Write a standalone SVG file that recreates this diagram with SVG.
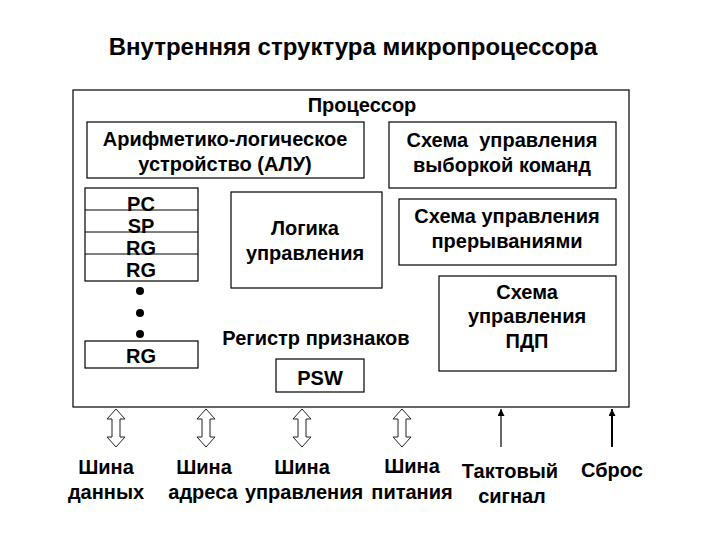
<svg xmlns="http://www.w3.org/2000/svg" width="720" height="540" viewBox="0 0 720 540">
<style>
  .box { fill: #fff; stroke: #000; stroke-width: 1.2; }
  .t { font-family: "Liberation Sans", Arial, sans-serif; font-weight: bold; font-size: 20px; fill: #000; text-anchor: middle; }
  .title { font-size: 24px; }
  .lbl { font-size: 20px; }
  .dbl { fill: #fff; stroke: #222; stroke-width: 1; }
  .sig { stroke: #000; fill: none; }
</style>
<defs>
  <marker id="ah" viewBox="0 0 10 10" refX="10" refY="5" markerWidth="8" markerHeight="7" markerUnits="userSpaceOnUse" orient="auto">
    <path d="M0,0 L10,5 L0,10 Z" fill="#000"/>
  </marker>
  <path id="dblarrow" class="dbl" d="M0,0 L9,10 L4,10 L4,28 L9,28 L0,38 L-9,28 L-4,28 L-4,10 L-9,10 Z"/>
</defs>
<rect width="720" height="540" fill="#fff"/>
<text id="title" class="t title" x="353" y="55">Внутренняя структура микропроцессора</text>

<g id="processor">
  <rect class="box" x="73" y="90" width="556" height="317"/>
  <text class="t" x="362" y="112">Процессор</text>
</g>
<g id="alu">
  <rect class="box" x="87" y="122" width="277" height="56"/>
  <text class="t" x="225" y="146">Арифметико-логическое</text>
  <text class="t" x="225" y="171">устройство (АЛУ)</text>
</g>
<g id="fetch">
  <rect class="box" x="389" y="122" width="227" height="66"/>
  <text class="t" x="502" y="147" xml:space="preserve">Схема  управления</text>
  <text class="t" x="502" y="172">выборкой команд</text>
</g>
<g id="registers">
  <rect class="box" x="85" y="188" width="113" height="93"/>
  <line class="sig" x1="85" y1="210" x2="198" y2="210"/>
  <line class="sig" x1="85" y1="232" x2="198" y2="232"/>
  <line class="sig" x1="85" y1="254" x2="198" y2="254"/>
  <text class="t" x="141" y="211">PC</text>
  <text class="t" x="141" y="233">SP</text>
  <text class="t" x="141" y="255">RG</text>
  <text class="t" x="141" y="277">RG</text>
  <circle cx="140" cy="291" r="4" fill="#000"/>
  <circle cx="140" cy="313" r="4" fill="#000"/>
  <circle cx="140" cy="334" r="4" fill="#000"/>
</g>
<g id="rg-last">
  <rect class="box" x="85" y="341" width="113" height="27"/>
  <text class="t" x="141" y="363">RG</text>
</g>
<g id="logic">
  <rect class="box" x="231" y="192" width="151" height="96"/>
  <text class="t" x="305" y="235">Логика</text>
  <text class="t" x="305" y="260">управления</text>
</g>
<g id="interrupts">
  <rect class="box" x="399" y="199" width="217" height="66"/>
  <text class="t" x="507" y="223">Схема управления</text>
  <text class="t" x="507" y="248">прерываниями</text>
</g>
<g id="dma">
  <rect class="box" x="439" y="276" width="177" height="95"/>
  <text class="t" x="527" y="299">Схема</text>
  <text class="t" x="527" y="323">управления</text>
  <text class="t" x="527" y="348">ПДП</text>
</g>
<g id="flags">
  <text class="t" x="316" y="345">Регистр признаков</text>
</g>
<g id="psw">
  <rect class="box" x="276" y="359" width="88" height="33"/>
  <text class="t" x="320" y="385">PSW</text>
</g>

<g id="connectors">
  <use href="#dblarrow" x="116" y="409"/>
  <use href="#dblarrow" x="206" y="409"/>
  <use href="#dblarrow" x="302" y="409"/>
  <use href="#dblarrow" x="402" y="409"/>
  <line class="sig" x1="501" y1="447" x2="501" y2="409" stroke-width="1.2" marker-end="url(#ah)"/>
  <line class="sig" x1="612" y1="447" x2="612" y2="409" stroke-width="2" marker-end="url(#ah)"/>
</g>

<g id="bus-labels">
  <text class="t lbl" x="106" y="474">Шина</text>
  <text class="t lbl" x="106" y="499">данных</text>
  <text class="t lbl" x="204" y="474">Шина</text>
  <text class="t lbl" x="203" y="499">адреса</text>
  <text class="t lbl" x="302" y="474">Шина</text>
  <text class="t lbl" x="304" y="499">управления</text>
  <text class="t lbl" x="412" y="473">Шина</text>
  <text class="t lbl" x="412" y="499">питания</text>
  <text class="t lbl" x="510" y="478">Тактовый</text>
  <text class="t lbl" x="512" y="503">сигнал</text>
  <text class="t lbl" x="612" y="477">Сброс</text>
</g>
</svg>
